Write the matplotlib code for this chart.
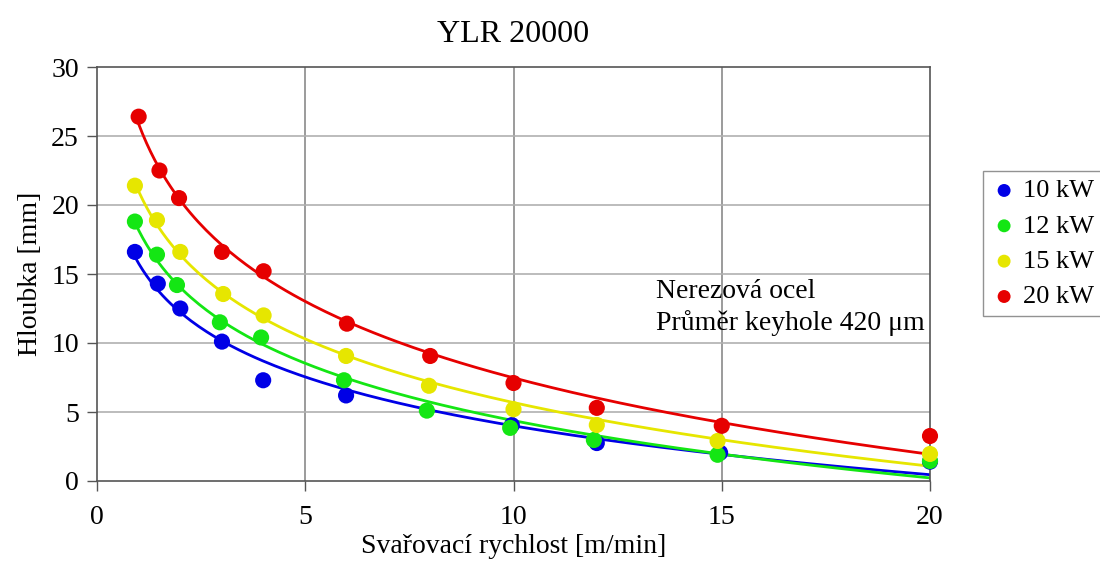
import numpy as np
import matplotlib
matplotlib.use("Agg")
import matplotlib.pyplot as plt

plt.rcParams['font.family'] = ['Liberation Serif', 'DejaVu Serif']

title = "YLR 20000"
xlabel = "Svařovací rychlost [m/min]"
ylabel = "Hloubka [mm]"
note_lines = ["Nerezová ocel", "Průměr keyhole 420 μm"]

labels = ["10 kW", "12 kW", "15 kW", "20 kW"]
colors = ["#0000e6", "#14e614", "#e6e600", "#e60000"]

x_10 = [0.91, 1.46, 2.0, 3.0, 3.99, 5.98, 9.96, 12.0, 14.96, 20.0]
y_10 = [16.6, 14.3, 12.5, 10.1, 7.3, 6.2, 4.05, 2.75, 2.05, 1.4]
x_12 = [0.91, 1.44, 1.92, 2.95, 3.94, 5.93, 7.92, 9.92, 11.93, 14.9, 20.0]
y_12 = [18.8, 16.4, 14.2, 11.5, 10.4, 7.3, 5.1, 3.85, 2.97, 1.9, 1.45]
x_15 = [0.91, 1.44, 2.0, 3.03, 4.0, 5.98, 7.97, 10.0, 12.0, 14.9, 20.0]
y_15 = [21.4, 18.9, 16.6, 13.55, 12.0, 9.06, 6.9, 5.2, 4.06, 2.9, 1.96]
x_20 = [1.0, 1.5, 1.97, 3.0, 4.0, 6.0, 8.0, 10.0, 12.0, 15.0, 20.0]
y_20 = [26.4, 22.5, 20.5, 16.6, 15.2, 11.4, 9.06, 7.1, 5.3, 4.0, 3.26]

series = [(x_10, y_10), (x_12, y_12), (x_15, y_15), (x_20, y_20)]

xticks = [0, 5, 10, 15, 20]
yticks = [0, 5, 10, 15, 20, 25, 30]

fig = plt.figure(figsize=(11, 5.64), dpi=100)
ax = fig.add_axes([97/1100, 1-481/564, (930-97)/1100, (481-67)/564])

ax.set_xlim(0, 20)
ax.set_ylim(0, 30)
ax.set_xticks(xticks)
ax.set_yticks(yticks)

for v in xticks[1:-1]:
    ax.axvline(v, color='#8a8a8a', lw=1.2, zorder=0)
for v in yticks[1:-1]:
    ax.axhline(v, color='#b0b0b0', lw=1.2, zorder=0)

handles = []
for (xs, ys), c, lab in zip(series, colors, labels):
    xs = np.asarray(xs); ys = np.asarray(ys)
    b, a = np.polyfit(np.log(xs), ys, 1)
    xf = np.linspace(xs.min(), xs.max(), 200)
    ax.plot(xf, a + b*np.log(xf), color=c, lw=2.0, zorder=2)
    h = ax.scatter(xs, ys, s=135, color=c, zorder=3, edgecolors='none', label=lab,
                   clip_on=False)
    handles.append(h)

for sp in ax.spines.values():
    sp.set_color('#555555')
    sp.set_linewidth(1.2)

ax.tick_params(axis='both', direction='out', length=7, width=1, color='#555555',
               labelsize=20)
ax.tick_params(axis='x', pad=10)
ax.tick_params(axis='y', pad=6)
ax.set_title(title, fontsize=23, pad=18)
ax.set_xlabel(xlabel, fontsize=20, labelpad=3)
ax.set_ylabel(ylabel, fontsize=20, labelpad=6)

ax.text(0.671, 0.42, note_lines[0] + "\n" + note_lines[1], transform=ax.transAxes,
        fontsize=20, va='center', ha='left', linespacing=1.3)

leg = fig.legend(handles=handles, labels=labels, loc='upper left',
                 bbox_to_anchor=(983/1100, 1-171/564), borderaxespad=0,
                 fontsize=19, frameon=True, fancybox=False, handletextpad=0.2,
                 handlelength=1.0, labelspacing=0.45, borderpad=0.3,
                 markerscale=0.8)
leg.get_frame().set_edgecolor('#777777')
leg.get_frame().set_linewidth(1.0)

fig.savefig("out.png", dpi=100)
